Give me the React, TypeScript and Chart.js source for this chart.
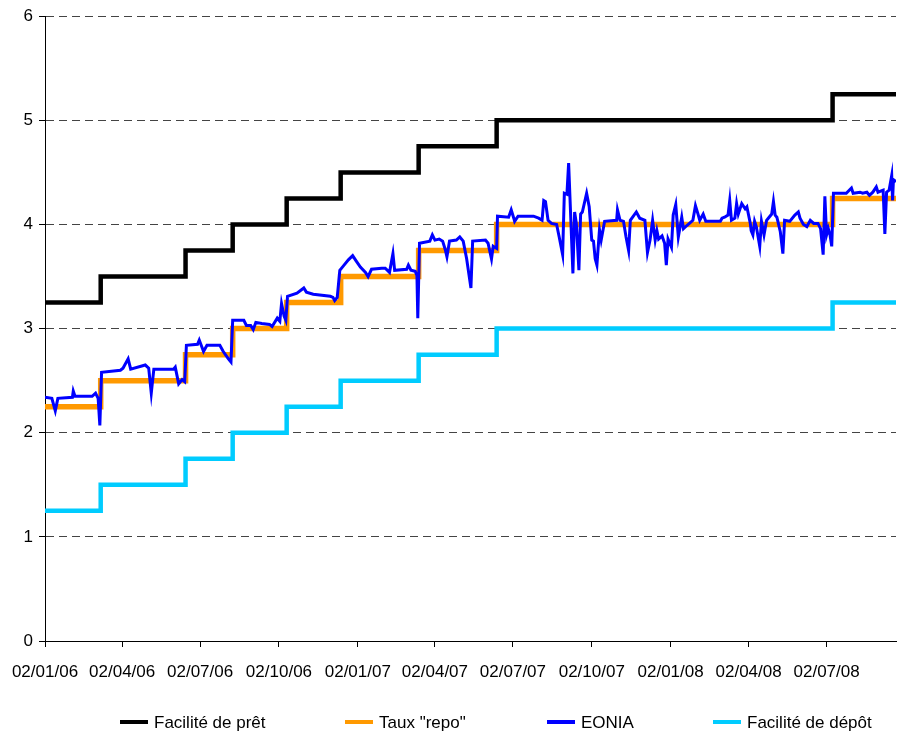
import React, { useEffect, useRef } from 'react';
import { Chart, registerables } from 'chart.js';

Chart.register(...registerables);

// ---- Data ----
const START_DATE = '2006-01-02';
const END_DATE = '2008-09-21';

const policyChangeDates = [
  '2006-01-02', '2006-03-08', '2006-06-15', '2006-08-09', '2006-10-11',
  '2006-12-13', '2007-03-14', '2007-06-13', '2008-07-09',
];
const lendingRates = [3.25, 3.5, 3.75, 4.0, 4.25, 4.5, 4.75, 5.0, 5.25];
const repoRates = [2.25, 2.5, 2.75, 3.0, 3.25, 3.5, 3.75, 4.0, 4.25];
const depositRates = [1.25, 1.5, 1.75, 2.0, 2.25, 2.5, 2.75, 3.0, 3.25];

const tickDates = [
  '2006-01-02', '2006-04-02', '2006-07-02', '2006-10-02', '2007-01-02', '2007-04-02',
  '2007-07-02', '2007-10-02', '2008-01-02', '2008-04-02', '2008-07-02',
];
const tickLabels = [
  '02/01/06', '02/04/06', '02/07/06', '02/10/06', '02/01/07', '02/04/07',
  '02/07/07', '02/10/07', '02/01/08', '02/04/08', '02/07/08',
];
const yTicks = [0, 1, 2, 3, 4, 5, 6];

// EONIA: days since START_DATE and daily rate (%)
const eoniaDays = [
  0, 8, 12, 15, 32, 33, 35, 55, 59, 62, 64, 66, 88, 91, 97, 100, 117, 121, 124, 127,
  150, 152, 156, 160, 163, 165, 178, 180, 185, 189, 204, 208, 214, 217, 219, 232, 235, 240, 243, 246,
  253, 262, 265, 271, 274, 276, 279, 281, 283, 294, 302, 305, 313, 333, 336, 338, 341, 344, 348, 354,
  359, 363, 368, 374, 377, 381, 393, 397, 402, 406, 408, 422, 424, 427, 432, 434, 435, 437, 449, 452,
  455, 460, 464, 467, 469, 472, 480, 484, 488, 492, 497, 499, 514, 517, 521, 523, 527, 528, 541, 544,
  547, 548, 552, 570, 576, 580, 582, 584, 587, 591, 597, 600, 604, 606, 609, 611, 616, 618, 620, 623,
  625, 627, 632, 635, 638, 640, 642, 644, 647, 649, 653, 667, 668, 671, 675, 678, 681, 683, 690, 694,
  700, 703, 706, 709, 712, 714, 716, 720, 723, 725, 727, 731, 733, 736, 739, 743, 745, 749, 756, 759,
  762, 764, 768, 771, 788, 790, 793, 797, 799, 801, 805, 807, 809, 813, 817, 819, 823, 824, 826, 828,
  830, 834, 836, 839, 842, 844, 848, 850, 852, 854, 858, 861, 863, 869, 875, 879, 881, 885, 889, 893,
  897, 902, 905, 908, 910, 912, 914, 916, 918, 920, 928, 935, 941, 943, 951, 954, 959, 962, 966, 970,
  972, 978, 980, 982, 985, 988, 989, 990, 993,
];
const eoniaValues = [
  2.34, 2.33, 2.21, 2.33, 2.34, 2.40, 2.35, 2.35, 2.38, 2.33, 2.07, 2.58, 2.60, 2.62, 2.71, 2.61, 2.65, 2.62, 2.38, 2.61,
  2.61, 2.63, 2.47, 2.51, 2.49, 2.84, 2.85, 2.89, 2.78, 2.84, 2.84, 2.78, 2.71, 2.68, 3.08, 3.08, 3.03, 3.03, 2.99, 3.06,
  3.05, 3.04, 3.02, 3.10, 3.07, 3.24, 3.12, 3.08, 3.31, 3.34, 3.39, 3.35, 3.33, 3.31, 3.30, 3.27, 3.30, 3.56, 3.60, 3.66,
  3.70, 3.65, 3.59, 3.54, 3.50, 3.57, 3.58, 3.58, 3.54, 3.72, 3.56, 3.57, 3.61, 3.56, 3.55, 3.51, 3.10, 3.82, 3.84, 3.90,
  3.85, 3.86, 3.84, 3.76, 3.69, 3.84, 3.85, 3.88, 3.84, 3.67, 3.39, 3.84, 3.85, 3.82, 3.67, 3.79, 3.77, 4.08, 4.07, 4.14,
  4.06, 4.03, 4.08, 4.08, 4.06, 4.04, 4.23, 4.22, 4.04, 4.01, 4.00, 3.88, 3.71, 4.30, 4.29, 4.59, 3.53, 4.12, 4.01, 3.56,
  4.10, 4.12, 4.30, 4.17, 3.85, 3.84, 3.67, 3.61, 3.95, 3.85, 4.03, 4.04, 4.14, 4.04, 4.03, 3.88, 3.75, 4.04, 4.12, 4.06,
  4.04, 3.73, 3.85, 4.04, 3.85, 3.94, 3.86, 3.89, 3.82, 3.61, 3.86, 3.78, 4.09, 4.19, 3.88, 4.07, 3.96, 3.99, 4.04, 4.18,
  4.10, 4.04, 4.10, 4.03, 4.03, 4.06, 4.07, 4.09, 4.23, 4.04, 4.06, 4.20, 4.10, 4.20, 4.15, 4.17, 4.01, 3.94, 3.90, 4.03,
  3.98, 3.79, 4.03, 3.90, 4.04, 4.06, 4.10, 4.22, 4.09, 4.07, 3.93, 3.72, 4.04, 4.03, 4.09, 4.12, 4.06, 4.00, 3.98, 4.04,
  4.01, 4.01, 3.96, 3.71, 4.27, 3.90, 3.96, 3.90, 3.79, 4.30, 4.30, 4.30, 4.35, 4.30, 4.31, 4.30, 4.31, 4.28, 4.31, 4.36,
  4.31, 4.33, 3.91, 4.31, 4.33, 4.47, 4.23, 4.43, 4.41,
];

const seriesNames = ['Facilité de prêt', 'Taux "repo"', 'EONIA', 'Facilité de dépôt'];
const seriesColors = ['#000000', '#FF9900', '#0000FF', '#00CCFF'];

// ---- Helpers / layout ----
const FONT_FAMILY = '"Liberation Sans", Arial, sans-serif';
const legendLefts = [120, 345, 547, 713];

const dayOf = (d: string) =>
  Math.round((Date.parse(d + 'T00:00:00Z') - Date.parse(START_DATE + 'T00:00:00Z')) / 86400000);

const stepPoints = (rates: number[]) =>
  policyChangeDates
    .map((d, i) => ({ x: dayOf(d), y: rates[i] }))
    .concat([{ x: dayOf(END_DATE), y: rates[rates.length - 1] }]);

export default function App() {
  const canvasRef = useRef<HTMLCanvasElement | null>(null);

  useEffect(() => {
    if (!canvasRef.current) return;
    const tickDayValues = tickDates.map(dayOf);
    const labelFor = (v: number) => {
      const idx = tickDayValues.indexOf(Math.round(v));
      return idx >= 0 ? tickLabels[idx] : '';
    };
    const eoniaPoints = eoniaDays.map((d, i) => ({ x: d, y: eoniaValues[i] }));

    const common = { pointRadius: 0, pointHoverRadius: 0, tension: 0, fill: false, borderCapStyle: 'butt' as const };

    const chart = new Chart(canvasRef.current, {
      type: 'line',
      data: {
        datasets: [
          { ...common, label: seriesNames[2], data: eoniaPoints, borderColor: seriesColors[2], backgroundColor: seriesColors[2], borderWidth: 3, order: 0 },
          { ...common, label: seriesNames[0], data: stepPoints(lendingRates), borderColor: seriesColors[0], backgroundColor: seriesColors[0], borderWidth: 4.5, stepped: 'before', order: 1 },
          { ...common, label: seriesNames[1], data: stepPoints(repoRates), borderColor: seriesColors[1], backgroundColor: seriesColors[1], borderWidth: 5.5, stepped: 'before', order: 2 },
          { ...common, label: seriesNames[3], data: stepPoints(depositRates), borderColor: seriesColors[3], backgroundColor: seriesColors[3], borderWidth: 4.5, stepped: 'before', order: 3 },
        ],
      },
      options: {
        animation: false,
        responsive: false,
        maintainAspectRatio: false,
        layout: { padding: { top: 16, right: 1, left: 0, bottom: 0 } },
        plugins: { legend: { display: false }, tooltip: { enabled: false } },
        scales: {
          x: {
            type: 'linear',
            min: 0,
            max: dayOf(END_DATE),
            afterBuildTicks: (s: any) => {
              s.ticks = tickDayValues.map((v) => ({ value: v }));
            },
            afterFit: (s: any) => {
              s.height = 93;
              s.paddingLeft = 0;
              s.paddingRight = 0;
            },
            ticks: {
              autoSkip: false,
              maxRotation: 0,
              minRotation: 0,
              padding: 15,
              color: '#000',
              font: { family: FONT_FAMILY, size: 17 },
              callback: (v: any) => labelFor(Number(v)),
            },
            grid: { drawOnChartArea: false, drawTicks: true, tickLength: 6, tickColor: '#000', color: '#000' },
            border: { color: '#000', width: 1 },
          },
          y: {
            min: 0,
            max: 6,
            afterBuildTicks: (s: any) => {
              s.ticks = yTicks.map((v) => ({ value: v }));
            },
            afterFit: (s: any) => {
              s.width = 45;
            },
            ticks: {
              padding: 6,
              color: '#000',
              font: { family: FONT_FAMILY, size: 17 },
              callback: (v: any) => String(v),
            },
            grid: {
              color: (ctx: any) => (ctx.tick && ctx.tick.value === 0 ? 'rgba(0,0,0,0)' : '#444444'),
              lineWidth: 1,
              tickColor: '#000',
              tickLength: 6,
              tickBorderDash: [],
            },
            border: { color: '#000', width: 1, dash: [8, 5] },
          },
        },
      },
    } as any);

    return () => chart.destroy();
  }, []);

  return (
    <div style={{ position: 'absolute', left: 0, top: 0, width: 897, height: 734, background: '#fff' }}>
      <canvas ref={canvasRef} width={897} height={734} style={{ display: 'block' }} />
      {seriesNames.map((name, i) => (
        <div
          key={name}
          style={{
            position: 'absolute',
            left: legendLefts[i],
            top: 713,
            display: 'flex',
            alignItems: 'center',
            fontFamily: FONT_FAMILY,
            fontSize: 17,
            lineHeight: '20px',
            color: '#000',
            whiteSpace: 'nowrap',
          }}
        >
          <span
            style={{
              display: 'inline-block',
              width: 28,
              height: 4,
              background: seriesColors[i],
              marginRight: 6,
              position: 'relative',
              top: -1,
            }}
          />
          {name}
        </div>
      ))}
    </div>
  );
}
